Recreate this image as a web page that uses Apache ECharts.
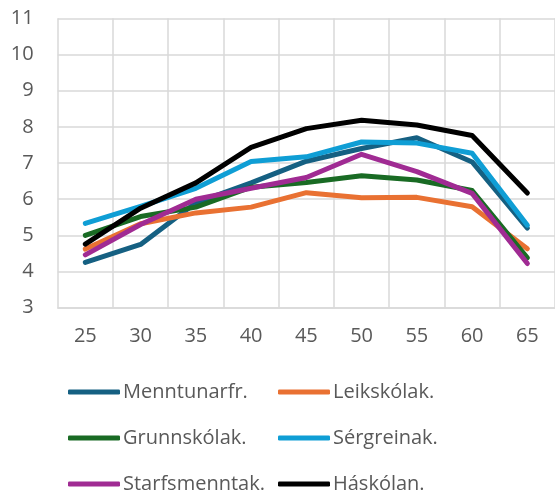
<!DOCTYPE html>
<html>
<head>
<meta charset="utf-8">
<script src="https://cdn.jsdelivr.net/npm/echarts@6/dist/echarts.min.js"></script>
<style>
html,body{margin:0;padding:0;background:#fff;}
#chart{width:555px;height:495px;}
</style>
</head>
<body>
<div id="chart"></div>
<script>
const categories = ['25','30','35','40','45','50','55','60','65'];
const menntunarfr = [4.25, 4.75, 5.9, 6.45, 7.05, 7.4, 7.7, 7.03, 5.2];
const leikskolak = [4.62, 5.32, 5.62, 5.78, 6.18, 6.04, 6.05, 5.79, 4.63];
const grunnskolak = [5.0, 5.52, 5.78, 6.33, 6.46, 6.65, 6.53, 6.24, 4.38];
const sergreinak = [5.33, 5.8, 6.3, 7.04, 7.17, 7.58, 7.55, 7.27, 5.28];
const starfsmenntak = [4.46, 5.3, 6.0, 6.3, 6.6, 7.24, 6.76, 6.16, 4.22];
const haskolan = [4.76, 5.75, 6.45, 7.43, 7.95, 8.18, 8.05, 7.76, 6.17];

const seriesNames = ['Menntunarfr.','Leikskólak.','Grunnskólak.','Sérgreinak.','Starfsmenntak.','Háskólan.'];
const seriesData = [menntunarfr, leikskolak, grunnskolak, sergreinak, starfsmenntak, haskolan];
const colors = ['#156082','#E97132','#196B24','#0F9ED5','#A02B93','#000000'];

const font = '"Open Sans", "Noto Sans", sans-serif';
const textColor = '#595959';

const legendPos = [
  [68, 392], [278, 392],
  [68, 438], [278, 438],
  [68, 484], [278, 484]
];

const chart = echarts.init(document.getElementById('chart'), null, {renderer:'canvas'});
chart.setOption({
  animation: false,
  backgroundColor: '#ffffff',
  grid: { left: 57.7, top: 18.3, width: 500.2, height: 289.4, containLabel: false },
  xAxis: {
    type: 'category',
    data: categories,
    boundaryGap: true,
    axisLine: { show: true, lineStyle: { color: '#d9d9d9', width: 1.5 } },
    axisTick: { show: false },
    splitLine: { show: true, interval: 0, lineStyle: { color: '#d9d9d9', width: 1.5 } },
    axisLabel: { color: textColor, fontSize: 20, fontFamily: font, margin: 19, interval: 0 }
  },
  yAxis: {
    type: 'value',
    min: 3, max: 11, interval: 1,
    axisLine: { show: false },
    axisTick: { show: false },
    splitLine: { show: true, lineStyle: { color: '#d9d9d9', width: 1.5 } },
    axisLabel: { color: textColor, fontSize: 20, fontFamily: font, margin: 24 }
  },
  legend: seriesNames.map((n, i) => ({
    data: [{ name: n, icon: 'roundRect' }],
    left: legendPos[i][0],
    top: legendPos[i][1] - 12,
    itemWidth: 52,
    itemHeight: 5,
    padding: 0,
    selectedMode: false,
    textStyle: { color: textColor, fontSize: 20, fontFamily: font, lineHeight: 24, padding: [0,0,0,-2] }
  })),
  series: seriesNames.map((n, i) => ({
    name: n,
    type: 'line',
    data: seriesData[i],
    showSymbol: false,
    symbol: 'none',
    color: colors[i],
    lineStyle: { width: 5, color: colors[i], cap: 'round', join: 'round' },
    emphasis: { disabled: true }
  }))
});
</script>
</body>
</html>
